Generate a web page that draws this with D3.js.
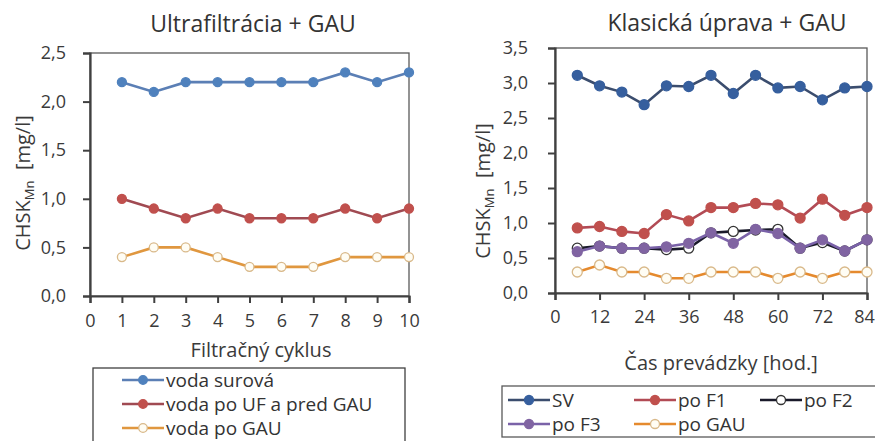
<!DOCTYPE html>
<html><head><meta charset="utf-8">
<script src="https://cdn.jsdelivr.net/npm/d3@7"></script>
<style>
html,body{margin:0;padding:0;background:#fff;}
svg{display:block;font-family:"Open Sans",Lato,sans-serif;}
</style></head>
<body>
<svg id="c" width="875" height="441"></svg>
<script>
// ---- Left chart data ----
const cycles = [1,2,3,4,5,6,7,8,9,10];
const leftXTicks = [0,1,2,3,4,5,6,7,8,9,10];
const leftYTicks = [0,0.5,1.0,1.5,2.0,2.5];
const vodaSurova = [2.2,2.1,2.2,2.2,2.2,2.2,2.2,2.3,2.2,2.3];
const vodaPoUF = [1.0,0.9,0.8,0.9,0.8,0.8,0.8,0.9,0.8,0.9];
const vodaPoGAU = [0.4,0.5,0.5,0.4,0.3,0.3,0.3,0.4,0.4,0.4];

// ---- Right chart data ----
const hours = [6,12,18,24,30,36,42,48,54,60,66,72,78,84];
const rightXTicks = [0,12,24,36,48,60,72,84];
const rightYTicks = [0,0.5,1.0,1.5,2.0,2.5,3.0,3.5];
const SV   = [3.11,2.96,2.87,2.69,2.96,2.95,3.11,2.85,3.11,2.93,2.95,2.76,2.93,2.95];
const poF1 = [0.93,0.95,0.88,0.85,1.12,1.03,1.22,1.22,1.28,1.26,1.07,1.34,1.11,1.22];
const poF2 = [0.64,0.67,0.64,0.64,0.62,0.64,0.86,0.88,0.90,0.91,0.64,0.72,0.60,0.76];
const poF3 = [0.59,0.67,0.64,0.64,0.66,0.71,0.86,0.71,0.91,0.85,0.64,0.76,0.60,0.76];
const poGAU= [0.30,0.40,0.30,0.30,0.21,0.21,0.30,0.30,0.30,0.21,0.30,0.21,0.30,0.30];

const fmt = d => d3.format(".1f")(d).replace(".", ",");
const svg = d3.select("#c");
const axisCol = "#404040";
const textCol = "#3a3a3a";

function yLabel(g, x, y) {
  const t = g.append("text").attr("transform", `translate(${x},${y}) rotate(-90)`)
    .attr("text-anchor","middle").attr("fill",textCol).attr("font-size",20);
  t.append("tspan").text("CHSK");
  t.append("tspan").text("Mn").attr("font-size",13).attr("dy",4);
  t.append("tspan").text("\u00a0\u00a0[mg/l]").attr("dy",-4);
}

function chart(o) {
  const g = svg.append("g");
  const x = d3.scaleLinear().domain(o.xDom).range([o.x0,o.x1]);
  const y = d3.scaleLinear().domain(o.yDom).range([o.y0,o.yTop]);
  g.append("rect").attr("x",o.x0).attr("y",o.yTop).attr("width",o.x1-o.x0).attr("height",o.y0-o.yTop)
    .attr("fill","none").attr("stroke","#595959").attr("stroke-width",1.3);
  const ya = g.append("g").attr("transform",`translate(${o.x0},0)`)
    .call(d3.axisLeft(y).tickValues(o.yTicks).tickFormat(fmt).tickSize(7).tickPadding(o.yPad));
  const xa = g.append("g").attr("transform",`translate(0,${o.y0})`)
    .call(d3.axisBottom(x).tickValues(o.xTicks).tickFormat(d3.format("d")).tickSize(7).tickPadding(o.xPad));
  [ya,xa].forEach(a=>{
    a.selectAll("path").attr("stroke",axisCol).attr("stroke-width",2.2);
    a.selectAll("line").attr("stroke",axisCol).attr("stroke-width",2);
    a.selectAll("text").attr("fill",textCol).attr("font-size",18).attr("font-family","'Open Sans',sans-serif");
  });
  if (o.lastShift) xa.selectAll(".tick text").filter(d=>d===o.xDom[1]).attr("dx",o.lastShift);
  g.append("text").attr("x",(o.titleX)).attr("y",o.titleY).attr("text-anchor","middle")
    .attr("font-size",23).attr("fill","#333").text(o.title);
  g.append("text").attr("x",o.xlabX).attr("y",o.xlabY).attr("text-anchor","middle")
    .attr("font-size",20).attr("fill",textCol).text(o.xlab);
  yLabel(g, o.ylabX, o.ylabY);
  const line = d3.line().x(d=>x(d[0])).y(d=>y(d[1]));
  o.series.forEach(s=>{
    const pts = o.xs.map((xv,i)=>[xv,s.values[i]]);
    g.append("path").datum(pts).attr("d",line).attr("fill","none")
      .attr("stroke",s.line).attr("stroke-width",2.6);
    g.selectAll(null).data(pts).enter().append("circle")
      .attr("cx",d=>x(d[0])).attr("cy",d=>y(d[1])).attr("r",o.r)
      .attr("fill",s.fill).attr("stroke",s.stroke).attr("stroke-width",1.3);
  });
  return g;
}

const leftSeries = [
  {name:"voda surová", values:vodaSurova, line:"#5b7fb5", fill:"#4f81bd", stroke:"#4f81bd"},
  {name:"voda po UF a pred GAU", values:vodaPoUF, line:"#a04a52", fill:"#c0504d", stroke:"#c0504d"},
  {name:"voda po GAU", values:vodaPoGAU, line:"#e0973f", fill:"#fffdf4", stroke:"#d9b98a"}
];
chart({x0:90,x1:409,yTop:53,y0:296,xDom:[0,10],yDom:[0,2.5],xTicks:leftXTicks,yTicks:leftYTicks,
  xs:cycles,series:leftSeries,r:4.5,yPad:17,xPad:11,
  title:"Ultrafiltrácia + GAU",titleX:253,titleY:32,xlab:"Filtračný cyklus",xlabX:261,xlabY:357,ylabX:30,ylabY:183});

const rightSeries = [
  {name:"SV", values:SV, line:"#3b4d6e", fill:"#365f9e", stroke:"#365f9e"},
  {name:"po F1", values:poF1, line:"#b24b55", fill:"#c0504d", stroke:"#c0504d"},
  {name:"po F2", values:poF2, line:"#1a1a2a", fill:"#ffffff", stroke:"#333"},
  {name:"po F3", values:poF3, line:"#7a62a8", fill:"#8064a2", stroke:"#8064a2"},
  {name:"po GAU", values:poGAU, line:"#e58a2e", fill:"#fffdf4", stroke:"#d9b98a"}
];
chart({x0:555,x1:867,yTop:48,y0:293,xDom:[0,84],yDom:[0,3.5],xTicks:rightXTicks,yTicks:rightYTicks,
  xs:hours,series:rightSeries,r:5,yPad:20,xPad:10,lastShift:-3,
  title:"Klasická úprava + GAU",titleX:727,titleY:31,xlab:"Čas prevádzky [hod.]",xlabX:721,xlabY:370,ylabX:490,ylabY:191});

// ---- legends ----
function legendItem(g, s, lx, ly, r) {
  g.append("line").attr("x1",lx).attr("x2",lx+42).attr("y1",ly).attr("y2",ly)
    .attr("stroke",s.line).attr("stroke-width",2.6);
  g.append("circle").attr("cx",lx+21).attr("cy",ly).attr("r",r)
    .attr("fill",s.fill).attr("stroke",s.stroke).attr("stroke-width",1.3);
  g.append("text").attr("x",lx+44).attr("y",ly).attr("dy","0.35em")
    .attr("font-size",19).attr("fill","#333").text(s.name);
}
const lg = svg.append("g");
lg.append("rect").attr("x",93).attr("y",368).attr("width",312).attr("height",80)
  .attr("fill","none").attr("stroke","#404040").attr("stroke-width",1.3);
leftSeries.forEach((s,i)=>legendItem(lg,s,122,380+i*24,4.3));

const rg = svg.append("g");
rg.append("rect").attr("x",502).attr("y",386).attr("width",380).attr("height",51)
  .attr("fill","none").attr("stroke","#595959").attr("stroke-width",1.3);
const rpos = [[508,400],[634,400],[760,400],[508,424],[634,424]];
rightSeries.forEach((s,i)=>legendItem(rg,s,rpos[i][0],rpos[i][1],4.5));
</script>
</body></html>
